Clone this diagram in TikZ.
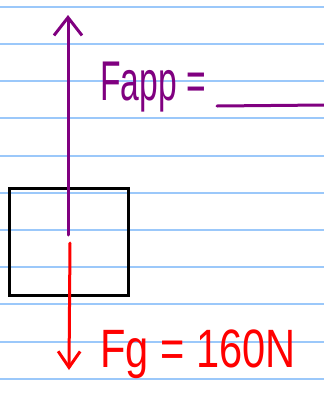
\documentclass[tikz,border=0pt]{standalone}
\usepackage{fontspec}
\newfontfamily\handfont[FakeStretch=0.6]{Liberation Sans}
\newfontfamily\handwide[FakeStretch=0.77]{Liberation Sans}
\usetikzlibrary{arrows.meta,positioning}
\definecolor{ruleblue}{RGB}{155,200,250}
\definecolor{apppurple}{RGB}{128,0,128}
\definecolor{gravred}{RGB}{255,0,0}

\begin{document}
\begin{tikzpicture}[x=1pt, y=-1pt,
    rule/.style={line width=2pt, ruleblue},
    force/.style={line width=3pt, line cap=round, -{Straight Barb[length=18pt, width=28pt, line width=3pt]}},
    flabel/.style={anchor=base west, inner sep=0pt}]
    \useasboundingbox (0,0) rectangle (324,405);
    % ruled paper
    \foreach \k in {0,...,10}
      \draw[rule] (0,6.7+37.2*\k) -- (324,6.7+37.2*\k);
    \node[draw, line width=3pt, minimum width=119pt, minimum height=107pt, inner sep=0pt] (block) at (68.5,241.5) {};
    \coordinate (appstart) at (68,235);
    \coordinate (apptip)   at (68,15);
    \coordinate (gstart)   at (70,243);
    \coordinate (gtip)     at (69,370);
    \draw[force, apppurple] (appstart) -- (apptip);
    \draw[force, gravred, -{Straight Barb[length=16pt, width=22pt, line width=3pt]}] (gstart) -- (gtip);
    \node[flabel, apppurple, font=\handfont\fontsize{56}{56}\selectfont] (fapp) at (100,100) {Fapp =};
    \coordinate (blankL) at (217,106);
    \coordinate (blankR) at (324,105);
    \draw[apppurple, line width=3pt, line cap=round] (blankL) -- (blankR);
    \node[flabel, gravred, font=\handwide\fontsize{54}{54}\selectfont] (fg) at (100,367) {Fg = 160N};
  \end{tikzpicture}
\end{document}
